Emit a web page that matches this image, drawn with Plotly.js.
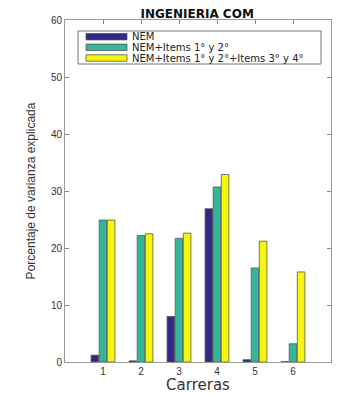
<!DOCTYPE html>
<html><head><meta charset="utf-8">
<script src="https://cdn.plot.ly/plotly-3.0.1.min.js"></script>
<style>body{margin:0;background:#fff}#c{width:337px;height:394px}</style>
</head><body><div id="c"></div>
<script>
const carreras = [1, 2, 3, 4, 5, 6];
const nem = [1.2, 0.2, 8.0, 26.9, 0.4, 0.05];
const nemItems12 = [24.9, 22.2, 21.7, 30.7, 16.5, 3.2];
const nemItems1234 = [24.9, 22.5, 22.6, 32.9, 21.2, 15.8];
const seriesNames = ["NEM", "NEM+Items 1° y 2°", "NEM+Items 1° y 2°+Items 3° y 4°"];
const colors = ["#302a86", "#35b69b", "#f7f70e"];
const vals = [nem, nemItems12, nemItems1234];
const font = "Liberation Sans, Arial, sans-serif";
const wide = "DejaVu Sans, sans-serif";
const traces = vals.map((v, i) => ({
  type: "bar", x: carreras, y: v, name: seriesNames[i],
  marker: {color: colors[i], line: {color: "#555", width: 0.8}}
}));
// legend drawn as paper-referenced box (plot area 65..331 x 20..362 px)
const px = x => (x - 65) / 266, py = y => (362 - y) / 342;
const shapes = [{type: "rect", xref: "paper", yref: "paper", x0: px(78), x1: px(321), y0: py(64), y1: py(31),
  line: {color: "#777", width: 1}, fillcolor: "#fff"}];
const annotations = [];
const rowY = [36.7, 47.3, 58];
seriesNames.forEach((n, i) => {
  shapes.push({type: "rect", xref: "paper", yref: "paper", x0: px(86), x1: px(127), y0: py(rowY[i] + 3.2), y1: py(rowY[i] - 3.2),
    line: {color: "#555", width: 0.8}, fillcolor: colors[i]});
  annotations.push({xref: "paper", yref: "paper", x: px(130), y: py(rowY[i]), xanchor: "left", yanchor: "middle",
    text: n, showarrow: false, font: {family: wide, size: 10, color: "#222"}});
});
const layout = {
  width: 337, height: 394,
  margin: {l: 65, r: 6, t: 20, b: 32},
  paper_bgcolor: "#fff", plot_bgcolor: "#fff",
  barmode: "group", bargap: 0.36, bargroupgap: 0.06,
  title: {text: "<b>INGENIERIA COM</b>", font: {family: wide, size: 12, color: "#111"}, x: 0.585, xanchor: "center", y: 0.966, yanchor: "middle"},
  xaxis: {
    range: [0, 7], tickvals: carreras, ticktext: carreras.map(String),
    ticks: "inside", ticklen: 4, tickcolor: "#888", showline: true, linecolor: "#999", linewidth: 1,
    mirror: "ticks", showgrid: false, zeroline: false,
    tickfont: {family: font, size: 10, color: "#333"},
    title: {text: "Carreras", font: {family: wide, size: 15, color: "#333"}, standoff: 3}
  },
  yaxis: {
    range: [0, 60], tickvals: [0, 10, 20, 30, 40, 50, 60],
    ticks: "inside", ticklen: 4, tickcolor: "#888", showline: true, linecolor: "#999", linewidth: 1,
    mirror: "ticks", showgrid: false, zeroline: false,
    tickfont: {family: font, size: 10, color: "#333"},
    title: {text: "Porcentaje de varianza explicada", font: {family: "Liberation Sans Narrow, Arial Narrow, sans-serif", size: 12, color: "#333"}, standoff: 12}
  },
  shapes: shapes, annotations: annotations,
  showlegend: false
};
Plotly.newPlot("c", traces, layout, {displayModeBar: false, staticPlot: true});
</script></body></html>
